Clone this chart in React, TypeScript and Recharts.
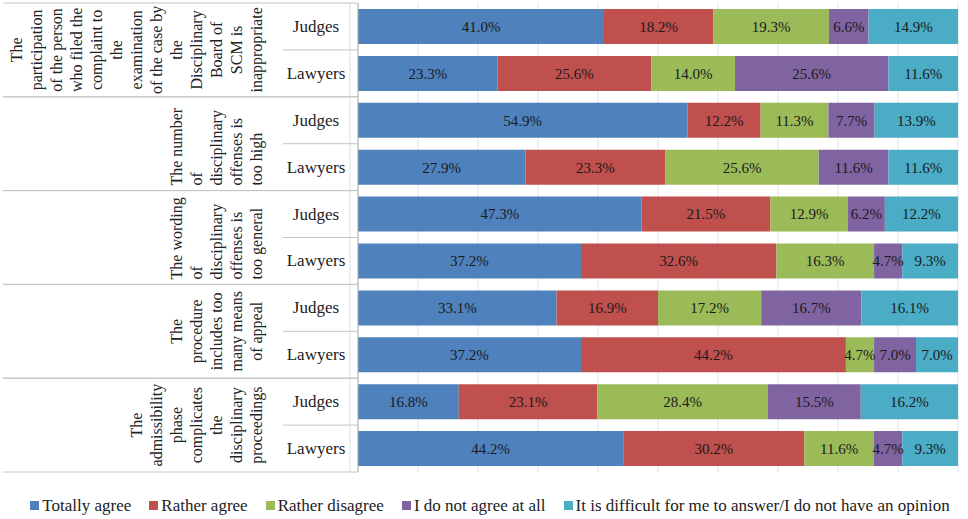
import React from 'react';
import { BarChart, Bar, XAxis, YAxis, CartesianGrid, LabelList, Legend } from 'recharts';

// rows, top to bottom
const rowIds = ['q1-j', 'q1-l', 'q2-j', 'q2-l', 'q3-j', 'q3-l', 'q4-j', 'q4-l', 'q5-j', 'q5-l'];
const roles = ['Judges', 'Lawyers', 'Judges', 'Lawyers', 'Judges', 'Lawyers', 'Judges', 'Lawyers', 'Judges', 'Lawyers'];

const groupLines = [
  ['The', 'participation', 'of the person', 'who filed the', 'complaint to', 'the', 'examination', 'of the case by', 'the', 'Disciplinary', 'Board of', 'SCM is', 'inappropriate'],
  ['The number', 'of', 'disciplinary', 'offenses is', 'too high'],
  ['The wording', 'of', 'disciplinary', 'offenses is', 'too general'],
  ['The', 'procedure', 'includes too', 'many means', 'of appeal'],
  ['The', 'admissibility', 'phase', 'complicates', 'the', 'disciplinary', 'proceedings'],
];
const groupAlign = ['middle', 'start', 'start', 'middle', 'middle'];

const totallyAgree = [41.0, 23.3, 54.9, 27.9, 47.3, 37.2, 33.1, 37.2, 16.8, 44.2];
const ratherAgree = [18.2, 25.6, 12.2, 23.3, 21.5, 32.6, 16.9, 44.2, 23.1, 30.2];
const ratherDisagree = [19.3, 14.0, 11.3, 25.6, 12.9, 16.3, 17.2, 4.7, 28.4, 11.6];
const notAgree = [6.6, 25.6, 7.7, 11.6, 6.2, 4.7, 16.7, 7.0, 15.5, 4.7];
const noOpinion = [14.9, 11.6, 13.9, 11.6, 12.2, 9.3, 16.1, 7.0, 16.2, 9.3];

const seriesKeys = ['ta', 'ra', 'rd', 'na', 'no'];
const seriesNames = [
  'Totally agree',
  'Rather agree',
  'Rather disagree',
  'I do not agree at all',
  'It is difficult for me to answer/I do not have an opinion',
];
const seriesColors = ['#4F81BD', '#C0504D', '#9BBB59', '#8064A2', '#4BACC6'];
const gridTicks = [0, 0.1, 0.2, 0.3, 0.4, 0.5, 0.6, 0.7, 0.8, 0.9, 1];

const data = rowIds.map((id, i) => ({
  id,
  ta: totallyAgree[i],
  ra: ratherAgree[i],
  rd: ratherDisagree[i],
  na: notAgree[i],
  no: noOpinion[i],
}));

const FONT = "'Liberation Serif', 'Times New Roman', serif";
const LINE_COLOR = '#c4c4c4';
const TABLE_LEFT = 3;
const TABLE_RIGHT = 350;
const AXIS_X = 357.5;
const SUB_LEFT = 283;
const SUB_CENTER = 316;
const LAST_LINE_X = 257;
const LINE_H = 20;

const RowTick = (props: any) => {
  const { y, payload, index } = props;
  const half = payload && payload.offset ? payload.offset : 23.5;
  const isJudge = index % 2 === 0;
  const g = Math.floor(index / 2);
  const lines = groupLines[g];
  const top = y - half;
  const mid = y + half;
  const bottom = y + 3 * half;
  const align = groupAlign[g];
  const anchorY = align === 'start' ? bottom - 5 : mid;
  return (
    <g>
      <line x1={TABLE_RIGHT} x2={TABLE_RIGHT} y1={y - half} y2={y + half} stroke="#dcdcdc" />
      <text
        x={SUB_CENTER}
        y={y}
        textAnchor="middle"
        dominantBaseline="central"
        fontFamily={FONT}
        fontSize={17}
        fill="#222"
      >
        {roles[index]}
      </text>
      {isJudge && (
        <>
          <line x1={TABLE_LEFT} x2={AXIS_X} y1={top} y2={top} stroke={LINE_COLOR} />
          <line x1={SUB_LEFT} x2={AXIS_X} y1={mid} y2={mid} stroke={LINE_COLOR} />
          {lines.map((t, k) => {
            const lx = LAST_LINE_X - (lines.length - 1 - k) * LINE_H;
            return (
              <text
                key={k}
                x={lx}
                y={anchorY}
                transform={`rotate(-90 ${lx} ${anchorY})`}
                textAnchor={align}
                dominantBaseline="central"
                fontFamily={FONT}
                fontSize={16}
                fill="#222"
              >
                {t}
              </text>
            );
          })}
        </>
      )}
      {!isJudge && <line x1={TABLE_LEFT} x2={AXIS_X} y1={y + half} y2={y + half} stroke={LINE_COLOR} />}
    </g>
  );
};

const LegendContent = () => (
  <div
    style={{
      display: 'flex',
      justifyContent: 'center',
      alignItems: 'center',
      gap: 18,
      height: 27,
      fontFamily: FONT,
      fontSize: 17,
      color: '#222',
      paddingLeft: 12,
    }}
  >
    {seriesNames.map((n, i) => (
      <span key={n} style={{ display: 'flex', alignItems: 'center', whiteSpace: 'nowrap' }}>
        <span style={{ display: 'inline-block', width: 9, height: 9, background: seriesColors[i], marginRight: 3 }} />
        {n}
      </span>
    ))}
  </div>
);

const fmt = (v: any) => `${Number(v).toFixed(1)}%`;

export default function App() {
  return (
    <div style={{ position: 'absolute', left: 0, top: 0, background: '#fff', fontFamily: FONT }}>
      <BarChart
        width={968}
        height={519}
        data={data}
        layout="vertical"
        stackOffset="expand"
        barCategoryGap={6}
        margin={{ top: 3, right: 10, bottom: 20, left: 3 }}
      >
        <CartesianGrid horizontal={false} stroke="#dde5ee" />
        <XAxis type="number" domain={[0, 1]} ticks={gridTicks} hide />
        <YAxis
          type="category"
          dataKey="id"
          width={355}
          tick={<RowTick />}
          tickLine={false}
          axisLine={{ stroke: '#b0b0b0' }}
          interval={0}
        />
        {seriesKeys.map((k, i) => (
          <Bar key={k} dataKey={k} name={seriesNames[i]} stackId="s" fill={seriesColors[i]} isAnimationActive={false}>
            <LabelList
              dataKey={k}
              position="center"
              formatter={fmt}
              fill="#1a1a1a"
              fontFamily={FONT}
              fontSize={15}
              style={{ fontFamily: FONT }}
            />
          </Bar>
        ))}
        <Legend verticalAlign="bottom" content={<LegendContent />} wrapperStyle={{ left: 0, width: 968, bottom: 0 }} />
      </BarChart>
    </div>
  );
}
